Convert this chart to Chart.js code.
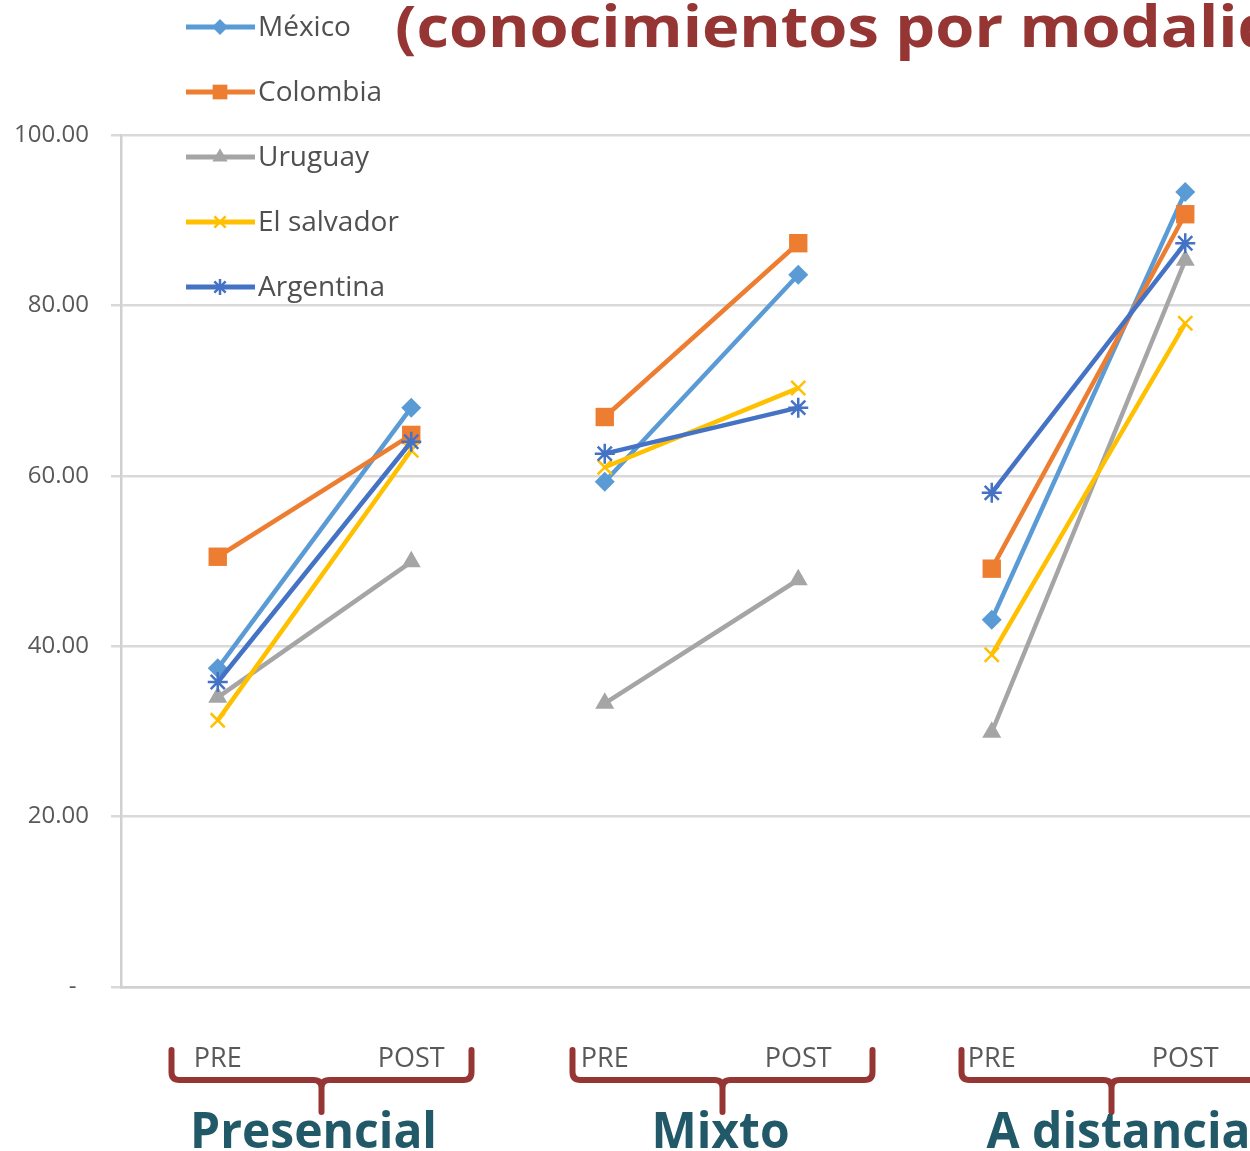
<!DOCTYPE html>
<html>
<head>
<meta charset="utf-8">
<title>Conocimientos por modalidad</title>
<script src="https://cdn.jsdelivr.net/npm/chart.js@4.4.1/dist/chart.umd.min.js"></script>
<style>
  html, body { margin: 0; padding: 0; background: #fff; overflow: hidden; }
  /* the original picture is cut on the right, so the canvas is a bit wider than the window */
  #wrap { position: relative; width: 1295px; height: 1151px; }
</style>
</head>
<body>
<div id="wrap"><canvas id="chart"></canvas></div>
<script>
// data
const categories = ['PRE', 'POST', 'PRE', 'POST', 'PRE', 'POST'];
const groups = ['Presencial', 'Mixto', 'A distancia'];
const countries = ['México', 'Colombia', 'Uruguay', 'El salvador', 'Argentina'];
const mexico     = [37.4, 68.0, 59.3, 83.6, 43.1, 93.3];
const colombia   = [50.5, 64.8, 66.9, 87.3, 49.1, 90.7];
const uruguay    = [34.0, 49.9, 33.3, 47.8, 29.9, 85.3];
const elSalvador = [31.3, 63.0, 61.0, 70.3, 39.0, 77.9];
const argentina  = [35.8, 64.0, 62.6, 68.0, 58.0, 87.3];
const yTickLabels = ['-', '20.00', '40.00', '60.00', '80.00', '100.00'];
const titleText = '(conocimientos por modalidad)';

const series = [mexico, colombia, uruguay, elSalvador, argentina];
const colors = ['#5B9BD5', '#ED7D31', '#A5A5A5', '#FFC000', '#4472C4'];
const markers = ['rectRot', 'rect', 'triangle', 'crossRot', 'star'];
const markerSize = [10, 13, 11, 10, 10];
// braces and group names were placed by hand on the slide
const braceShift = [7, 21, 23];
const labelShift = [-1, 19, 30];

const datasets = series.map(function(values, i) {
    return {
        label: countries[i],
        data: values,
        borderColor: colors[i],
        backgroundColor: colors[i],
        borderWidth: 4.5,
        pointStyle: markers[i],
        pointRadius: markerSize[i],
        pointBorderWidth: (markers[i] === 'crossRot' || markers[i] === 'star') ? 2.5 : 0,
        order: 4 - i,
        segment: {
            // no line from a POST to the next group's PRE
            borderColor: function(ctx) {
                return ctx.p0DataIndex % 2 === 1 ? 'rgba(0,0,0,0)' : undefined;
            }
        }
    };
});

// legend, braces, group names and title
const decorations = {
    id: 'decorations',
    afterDraw: function(chart) {
        const ctx = chart.ctx;
        const x = chart.scales.x;

        // legend (vertical, top left)
        ctx.save();
        chart.data.datasets.forEach(function(ds, i) {
            const y = 27 + i * 65;
            ctx.strokeStyle = ds.borderColor;
            ctx.fillStyle = ds.backgroundColor;
            ctx.lineWidth = 5;
            ctx.beginPath();
            ctx.moveTo(186, y);
            ctx.lineTo(255, y);
            ctx.stroke();
            ctx.lineWidth = ds.pointBorderWidth || 0;
            Chart.helpers.drawPoint(ctx, {
                pointStyle: ds.pointStyle,
                radius: ds.pointRadius * 0.8,
                rotation: 0,
                borderWidth: ds.pointBorderWidth
            }, 220, y);
            ctx.fillStyle = '#505050';
            ctx.font = '28px "Open Sans"';
            ctx.textAlign = 'left';
            ctx.textBaseline = 'middle';
            ctx.fillText(ds.label, 258, y + 1);
        });
        ctx.restore();

        // braces under PRE / POST and the group names
        ctx.save();
        groups.forEach(function(name, g) {
            const pre = x.getPixelForValue(2 * g);
            const post = x.getPixelForValue(2 * g + 1);
            const mid = (pre + post) / 2;
            const cx = mid + braceShift[g];
            const half = 150, top = 1050, bar = 1080, tip = 1112, r = 8;
            ctx.strokeStyle = '#963634';
            ctx.lineWidth = 6;
            ctx.lineCap = 'round';
            ctx.beginPath();
            ctx.moveTo(cx - half, top);
            ctx.lineTo(cx - half, bar - r);
            ctx.quadraticCurveTo(cx - half, bar, cx - half + r, bar);
            ctx.lineTo(cx - r, bar);
            ctx.quadraticCurveTo(cx, bar, cx, bar + r);
            ctx.lineTo(cx, tip);
            ctx.moveTo(cx, bar + r);
            ctx.quadraticCurveTo(cx, bar, cx + r, bar);
            ctx.lineTo(cx + half - r, bar);
            ctx.quadraticCurveTo(cx + half, bar, cx + half, bar - r);
            ctx.lineTo(cx + half, top);
            ctx.stroke();

            ctx.save();
            ctx.translate(mid + labelShift[g], 1148);
            ctx.scale(0.96, 1);
            ctx.fillStyle = '#215968';
            ctx.font = 'bold 50px "Open Sans"';
            ctx.textAlign = 'center';
            ctx.textBaseline = 'alphabetic';
            ctx.fillText(name, 0, 0);
            ctx.restore();
        });
        ctx.restore();

        // title (cut by the right edge, as in the picture)
        ctx.save();
        ctx.translate(395, 47);
        ctx.scale(1.09, 1);
        ctx.fillStyle = '#963634';
        ctx.font = 'bold 58px "Open Sans"';
        ctx.textAlign = 'left';
        ctx.textBaseline = 'alphabetic';
        ctx.fillText(titleText, 0, 0);
        ctx.restore();
    }
};

const chart = new Chart(document.getElementById('chart'), {
    type: 'line',
    data: { labels: categories, datasets: datasets },
    options: {
        responsive: true,
        maintainAspectRatio: false,
        animation: false,
        layout: { padding: { top: 135, right: 2, left: 0, bottom: 0 } },
        plugins: {
            legend: { display: false },
            tooltip: { enabled: false }
        },
        scales: {
            x: {
                offset: true,
                afterFit: function(s) { s.height = 164; },
                grid: { display: false, drawTicks: false },
                border: { display: true, color: '#d0d0d0', width: 2.5 },
                ticks: {
                    color: '#595959',
                    font: { family: 'Open Sans', size: 27 },
                    padding: 56,
                    maxRotation: 0,
                    autoSkip: false
                }
            },
            y: {
                min: 0,
                max: 100,
                afterFit: function(s) { s.width = 121; },
                grid: { color: '#d9d9d9', lineWidth: 2.5, tickLength: 10 },
                border: { display: true, color: '#d0d0d0', width: 2.5 },
                ticks: {
                    stepSize: 20,
                    color: '#595959',
                    font: { family: 'Open Sans', size: 24 },
                    padding: 22,
                    callback: function(value, index) {
                        // the zero label sits further left, as in the accounting format
                        return index === 0 ? yTickLabels[index] + '  ' : yTickLabels[index];
                    }
                }
            }
        }
    },
    plugins: [decorations]
});
</script>
</body>
</html>
